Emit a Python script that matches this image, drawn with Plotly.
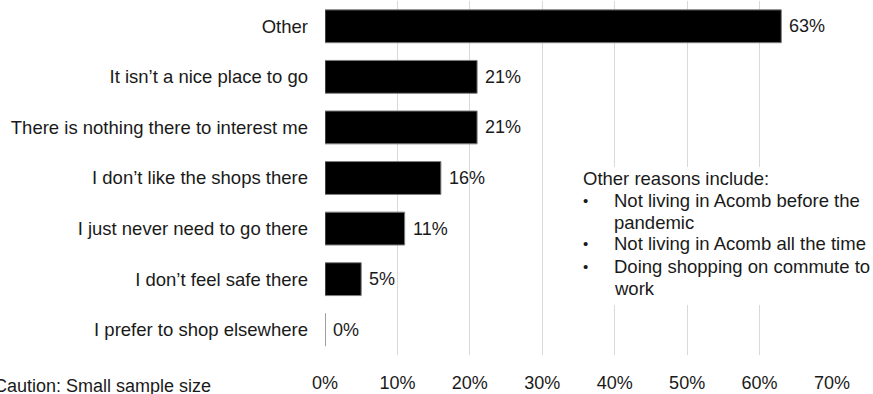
import plotly.graph_objects as go

# Survey responses: reasons for not visiting, share of respondents (%)
categories = [
    "Other",
    "It isn\u2019t a nice place to go",
    "There is nothing there to interest me",
    "I don\u2019t like the shops there",
    "I just never need to go there",
    "I don\u2019t feel safe there",
    "I prefer to shop elsewhere",
]
values = [63, 21, 21, 16, 11, 5, 0]

x_ticks = [0, 10, 20, 30, 40, 50, 60, 70]
x_tick_labels = [f"{t}%" for t in x_ticks]

note_lines = [
    ("Other reasons include:", False, False),
    ("Not living in Acomb before the", True, True),
    ("pandemic", False, True),
    ("Not living in Acomb all the time", True, True),
    ("Doing shopping on commute to", True, True),
    ("work", False, True),
]

FONT = "Liberation Sans, Arial, sans-serif"
TEXT = "#1a1a1a"
SIZE = 18.5
NOTE_SIZE = 18.5

fig = go.Figure(
    go.Bar(
        x=values,
        y=categories,
        orientation="h",
        marker=dict(color="#000000", line=dict(color="#7f7f7f", width=1)),
        width=0.65,
        hoverinfo="skip",
    )
)

annotations = []
# value labels just past the bar ends
for cat, v in zip(categories, values):
    annotations.append(
        dict(
            x=v, y=cat, xref="x", yref="y",
            text=f"{v}%", showarrow=False,
            xanchor="left", yanchor="middle", xshift=6,
            font=dict(family=FONT, size=18, color=TEXT),
        )
    )

# note box with bulleted list
plot_l, plot_r, plot_t, plot_b = 325, 832.5, 1, 355
pw, ph = plot_r - plot_l, plot_b - plot_t


def px_x(px):
    return (px - plot_l) / pw


def px_y(py):
    return 1 - (py - plot_t) / ph


bullet_x = px_x(581)
indent_x = px_x(612)
line_h = 22 / ph
y0 = px_y(178)
for i, (txt, bullet, indented) in enumerate(note_lines):
    yy = y0 - i * line_h
    if bullet:
        annotations.append(
            dict(x=bullet_x, y=yy, xref="paper", yref="paper", text="\u2022",
                 showarrow=False, xanchor="left", yanchor="middle",
                 font=dict(family=FONT, size=15, color=TEXT))
        )
    annotations.append(
        dict(x=indent_x if indented else bullet_x, y=yy, xref="paper", yref="paper",
             text=txt, showarrow=False, xanchor="left", yanchor="middle",
             font=dict(family=FONT, size=NOTE_SIZE, color=TEXT))
    )

annotations.append(
    dict(x=px_x(213), y=px_y(386), xref="paper", yref="paper",
         text="Caution: Small sample size", showarrow=False,
         xanchor="right", yanchor="middle",
         font=dict(family=FONT, size=18, color=TEXT))
)

# white backing behind the note so gridlines stop at its edges
shapes = [
    dict(type="rect", xref="paper", yref="paper",
         x0=px_x(575), x1=px_x(873), y0=px_y(305), y1=px_y(167),
         fillcolor="white", line=dict(width=0), layer="above")
]

fig.update_layout(
    width=873, height=394,
    margin=dict(l=plot_l, r=873 - plot_r, t=plot_t, b=394 - plot_b, pad=0),
    paper_bgcolor="white", plot_bgcolor="white",
    showlegend=False,
    bargap=0.35,
    annotations=annotations,
    shapes=shapes,
    font=dict(family=FONT, size=SIZE, color=TEXT),
)
fig.update_xaxes(
    range=[0, 70],
    tickvals=x_ticks, ticktext=x_tick_labels,
    showgrid=True, gridcolor="#d9d9d9", gridwidth=1,
    zeroline=False, showline=False, ticks="",
    ticklabelstandoff=15,
    tickfont=dict(family=FONT, size=18, color=TEXT),
    fixedrange=True,
)
fig.update_yaxes(
    categoryorder="array", categoryarray=categories[::-1],
    showgrid=False, zeroline=False, showline=False, ticks="",
    ticklabelstandoff=16,
    tickfont=dict(family=FONT, size=SIZE, color=TEXT),
    fixedrange=True,
)

fig.write_html("out.html")
